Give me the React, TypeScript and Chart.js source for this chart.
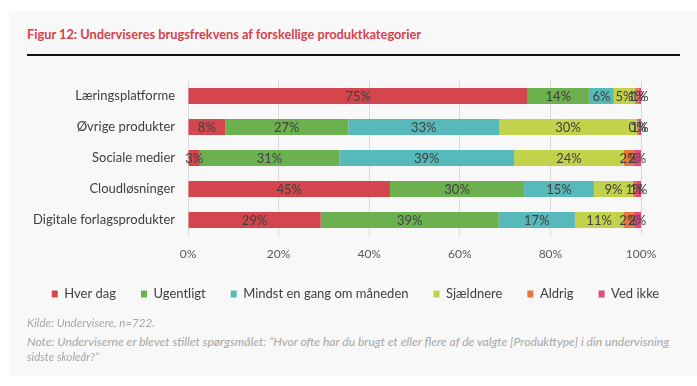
import React, { useEffect, useLayoutEffect, useRef } from "react";
import { Chart, registerables } from "chart.js";

Chart.register(...registerables);

const categories = [
  "Læringsplatforme",
  "Øvrige produkter",
  "Sociale medier",
  "Cloudløsninger",
  "Digitale forlagsprodukter",
];
const seriesNames = [
  "Hver dag",
  "Ugentligt",
  "Mindst en gang om måneden",
  "Sjældnere",
  "Aldrig",
  "Ved ikke",
];
const hverDag = [75.0, 8.2, 2.6, 44.6, 29.3];
const ugentligt = [13.5, 27.2, 30.8, 29.6, 39.3];
const mindstMaaned = [5.5, 33.3, 38.6, 15.4, 16.8];
const sjaeldnere = [4.7, 30.4, 24.2, 8.6, 10.7];
const aldrig = [0.7, 0.3, 2.1, 0.7, 2.2];
const vedIkke = [0.6, 0.6, 1.7, 1.1, 1.7];
const xTickValues = [0, 20, 40, 60, 80, 100];

const seriesColors = ["#D4464E", "#6CB050", "#57B9B9", "#C2D24B", "#E8763C", "#E04B7D"];

const titleText = "Figur 12: Underviseres brugsfrekvens af forskellige produktkategorier";
const sourceText = "Kilde: Undervisere, n=722.";
const noteLine1 =
  "Note: Underviserne er blevet stillet spørgsmålet: ”Hvor ofte har du brugt et eller flere af de valgte [Produkttype] i din undervisning";
const noteLine2 = "sidste skoleår?”";

const FONT = "Lato, 'Open Sans', sans-serif";

function FitText(props: {
  text: string;
  left: number;
  centerY: number;
  width: number;
  size: number;
  color: string;
  weight?: number | string;
  italic?: boolean;
}) {
  const ref = useRef<HTMLSpanElement>(null);
  useLayoutEffect(() => {
    const el = ref.current;
    if (!el) return;
    el.style.transform = "none";
    const w = el.getBoundingClientRect().width;
    if (w > 0) el.style.transform = `scaleX(${props.width / w})`;
  }, [props.text, props.width]);
  const lh = Math.round(props.size * 1.2);
  return (
    <span
      ref={ref}
      style={{
        position: "absolute",
        left: props.left,
        top: props.centerY - lh / 2,
        lineHeight: `${lh}px`,
        fontSize: props.size,
        fontFamily: FONT,
        fontWeight: props.weight ?? 400,
        fontStyle: props.italic ? "italic" : "normal",
        color: props.color,
        whiteSpace: "nowrap",
        display: "inline-block",
        transformOrigin: "left center",
      }}
    >
      {props.text}
    </span>
  );
}

const segmentLabels = {
  id: "segmentLabels",
  afterDatasetsDraw(chart: any) {
    const ctx = chart.ctx;
    ctx.save();
    ctx.font = `13px ${FONT}`;
    ctx.fillStyle = "#404040";
    ctx.textAlign = "center";
    ctx.textBaseline = "middle";
    chart.data.datasets.forEach((ds: any, di: number) => {
      const meta = chart.getDatasetMeta(di);
      meta.data.forEach((bar: any, i: number) => {
        const v = ds.data[i] as number;
        const p = bar.getProps(["x", "base", "y"], true);
        ctx.fillText(Math.round(v) + "%", (p.x + p.base) / 2, p.y + 0.5);
      });
    });
    ctx.restore();
  },
};

export default function App() {
  const canvasRef = useRef<HTMLCanvasElement>(null);

  useEffect(() => {
    if (!canvasRef.current) return;
    const seriesData = [hverDag, ugentligt, mindstMaaned, sjaeldnere, aldrig, vedIkke];
    const chart = new Chart(canvasRef.current, {
      type: "bar",
      data: {
        labels: categories,
        datasets: seriesNames.map((name, i) => ({
          label: name,
          data: seriesData[i],
          backgroundColor: seriesColors[i],
          borderWidth: 0,
          categoryPercentage: 1,
          barPercentage: 0.52,
        })),
      },
      options: {
        indexAxis: "y",
        animation: false,
        responsive: false,
        devicePixelRatio: 1,
        layout: { padding: { left: 14, right: 0, top: 10.5, bottom: 9.5 } },
        plugins: {
          tooltip: { enabled: false },
          legend: {
            position: "bottom",
            labels: {
              boxWidth: 6,
              boxHeight: 7,
              padding: 25,
              color: "#404040",
              font: { family: FONT, size: 13 },
            },
          },
        },
        scales: {
          x: {
            stacked: true,
            min: 0,
            max: 100,
            afterBuildTicks: (s: any) => {
              s.ticks = xTickValues.map((v) => ({ value: v }));
            },
            ticks: {
              padding: 11,
              color: "#595959",
              font: { family: FONT, size: 12 },
              callback: (v: any) => v + "%",
            },
            grid: { color: "#D9D9D9", drawTicks: false, lineWidth: 1 },
            border: { display: false },
            afterFit: (s: any) => {
              s.height = 27;
              s.paddingLeft = 0;
              s.paddingRight = 0;
            },
          },
          y: {
            stacked: true,
            ticks: {
              padding: 13,
              color: "#404040",
              font: { family: FONT, size: 13 },
            },
            grid: { display: false, drawTicks: false },
            border: { display: false },
            afterFit: (s: any) => {
              s.width = 174;
              s.paddingTop = 0;
              s.paddingBottom = 0;
            },
          },
          y2: {
            type: "category",
            position: "right",
            display: true,
            ticks: { display: false },
            grid: { display: false, drawTicks: false },
            border: { display: false },
            afterFit: (s: any) => {
              s.width = 56;
              s.paddingTop = 0;
              s.paddingBottom = 0;
            },
          },
        },
      } as any,
      plugins: [segmentLabels],
    });
    return () => chart.destroy();
  }, []);

  return (
    <div
      style={{
        position: "fixed",
        left: 0,
        top: 0,
        width: 697,
        height: 386,
        background: "#ffffff",
        overflow: "hidden",
      }}
    >
      <div
        style={{
          position: "absolute",
          left: 9,
          top: 11,
          width: 688,
          height: 365,
          background: "#F8F8F8",
        }}
      />
      <FitText text={titleText} left={27} centerY={33} width={394} size={14} color="#D6404B" weight={700} />
      <div
        style={{
          position: "absolute",
          left: 27,
          top: 54,
          width: 653,
          height: 2,
          background: "#111111",
        }}
      />
      <canvas
        ref={canvasRef}
        width={697}
        height={250}
        style={{ position: "absolute", left: 0, top: 70, width: 697, height: 250 }}
      />
      <FitText text={sourceText} left={27} centerY={323} width={128} size={12} color="#A6A6A6" italic />
      <FitText text={noteLine1} left={27} centerY={342} width={642} size={12} color="#A6A6A6" italic />
      <FitText text={noteLine2} left={27} centerY={357} width={72} size={12} color="#A6A6A6" italic />
    </div>
  );
}
